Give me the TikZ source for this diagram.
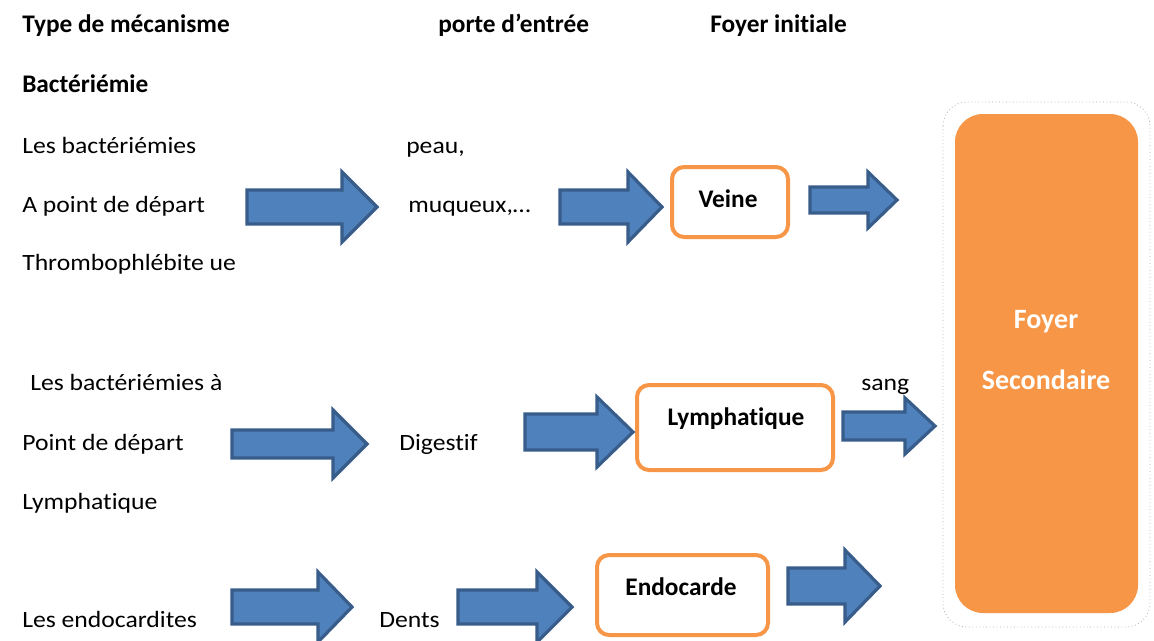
\documentclass[tikz,border=0pt]{standalone}
\usepackage{fontspec}
\setmainfont[Ligatures=NoCommon]{Carlito}
\newfontfamily\bodyf[FakeStretch=1.1,Ligatures=NoCommon]{Carlito}
\definecolor{ablue}{HTML}{4F81BD}
\definecolor{ablueline}{HTML}{385D8A}
\definecolor{orng}{HTML}{F79646}
\newcommand\blockarrow[6]{% left, head start, tip, centre y, body half, head half
  \draw[barrow] (#1,#4-#5) -- (#2,#4-#5) -- (#2,#4-#6) -- (#3,#4) -- (#2,#4+#6) -- (#2,#4+#5) -- (#1,#4+#5) -- cycle;}
\begin{document}
\begin{tikzpicture}[x=0.75pt,y=-0.75pt,
  bodytxt/.style={anchor=base west, inner sep=0pt, font=\bodyf\fontsize{17.5}{20}\selectfont},
  headtxt/.style={anchor=base west, inner sep=0pt, font=\bfseries\fontsize{19}{22}\selectfont},
  lbl/.style={anchor=base, inner sep=0pt, font=\bfseries\fontsize{19}{22}\selectfont},
  wlbl/.style={anchor=base, inner sep=0pt, text=white, font=\bfseries\fontsize{21}{24}\selectfont},
  obox/.style={draw=orng, line width=3pt, rounded corners=9pt, fill=white, inner sep=0pt},
  fbox/.style={fill=orng, rounded corners=21pt, inner sep=0pt},
  barrow/.style={fill=ablue, draw=ablueline, line width=2.4pt, line join=miter}]
\useasboundingbox (0,0) rectangle (1154,640);
\clip (0,0) rectangle (1154,640);
\fill[white] (0,0) rectangle (1154,640);

% headers
\node[headtxt] (h1) at (22,32) {Type de mécanisme};
\node[headtxt] (h2) at (438,32) {porte d’entrée};
\node[headtxt] (h3) at (710,32) {Foyer initiale};
\node[headtxt] (h4) at (22,92) {Bactériémie};

% row 1
\node[bodytxt] (r1a) at (22,153) {Les bactériémies};
\node[bodytxt] (r1b) at (22,212) {A point de départ};
\node[bodytxt] (r1c) at (22,270) {Thrombophlébite ue};
\node[bodytxt] (p1a) at (406,153) {peau,};
\node[bodytxt] (p1b) at (408,212) {muqueux,…};

% row 2
\node[bodytxt] (r2a) at (30,390) {Les bactériémies à};
\node[bodytxt] (r2b) at (22,450) {Point de départ};
\node[bodytxt] (r2c) at (22,509) {Lymphatique};
\node[bodytxt] (p2) at (399,450) {Digestif};
\node[bodytxt] (sang) at (861,390) {sang};

% row 3
\node[bodytxt] (r3) at (22,627) {Les endocardites};
\node[bodytxt] (p3) at (379,627) {Dents};

% orange boxes
\node[obox, minimum width=87pt, minimum height=52.5pt] (veine) at (730,202) {};
\node[lbl] (veinet) at (728,207) {Veine};
\node[obox, minimum width=147pt, minimum height=63.75pt] (lymph) at (735,427.5) {};
\node[lbl] (lympht) at (736,425) {Lymphatique};
\node[obox, minimum width=128.25pt, minimum height=60pt] (endo) at (682.5,595) {};
\node[lbl] (endot) at (681,595) {Endocarde};

% foyer secondaire
\draw[gray!60, dotted, line width=0.6pt, rounded corners=18pt] (943,102) rectangle (1150,627);
\node[fbox, minimum width=137.25pt, minimum height=374.25pt] (foyer) at (1046.5,363.5) {};
\node[wlbl] (foyer1) at (1046,328) {Foyer};
\node[wlbl] (foyer2) at (1046,389) {Secondaire};

% block arrows
\blockarrow{247}{342}{377}{207}{17}{35}
\blockarrow{560}{628}{662}{207}{17}{35}
\blockarrow{810}{868}{897}{200}{13}{28}
\blockarrow{232}{333}{367}{444}{14}{34}
\blockarrow{525}{597}{633}{432}{18}{35}
\blockarrow{843}{905}{935}{426}{14}{28}
\blockarrow{232}{318}{352}{607}{17}{35}
\blockarrow{458}{537}{572}{607}{17}{35}
\blockarrow{788}{845}{880}{586}{18}{36}
\end{tikzpicture}
\end{document}
